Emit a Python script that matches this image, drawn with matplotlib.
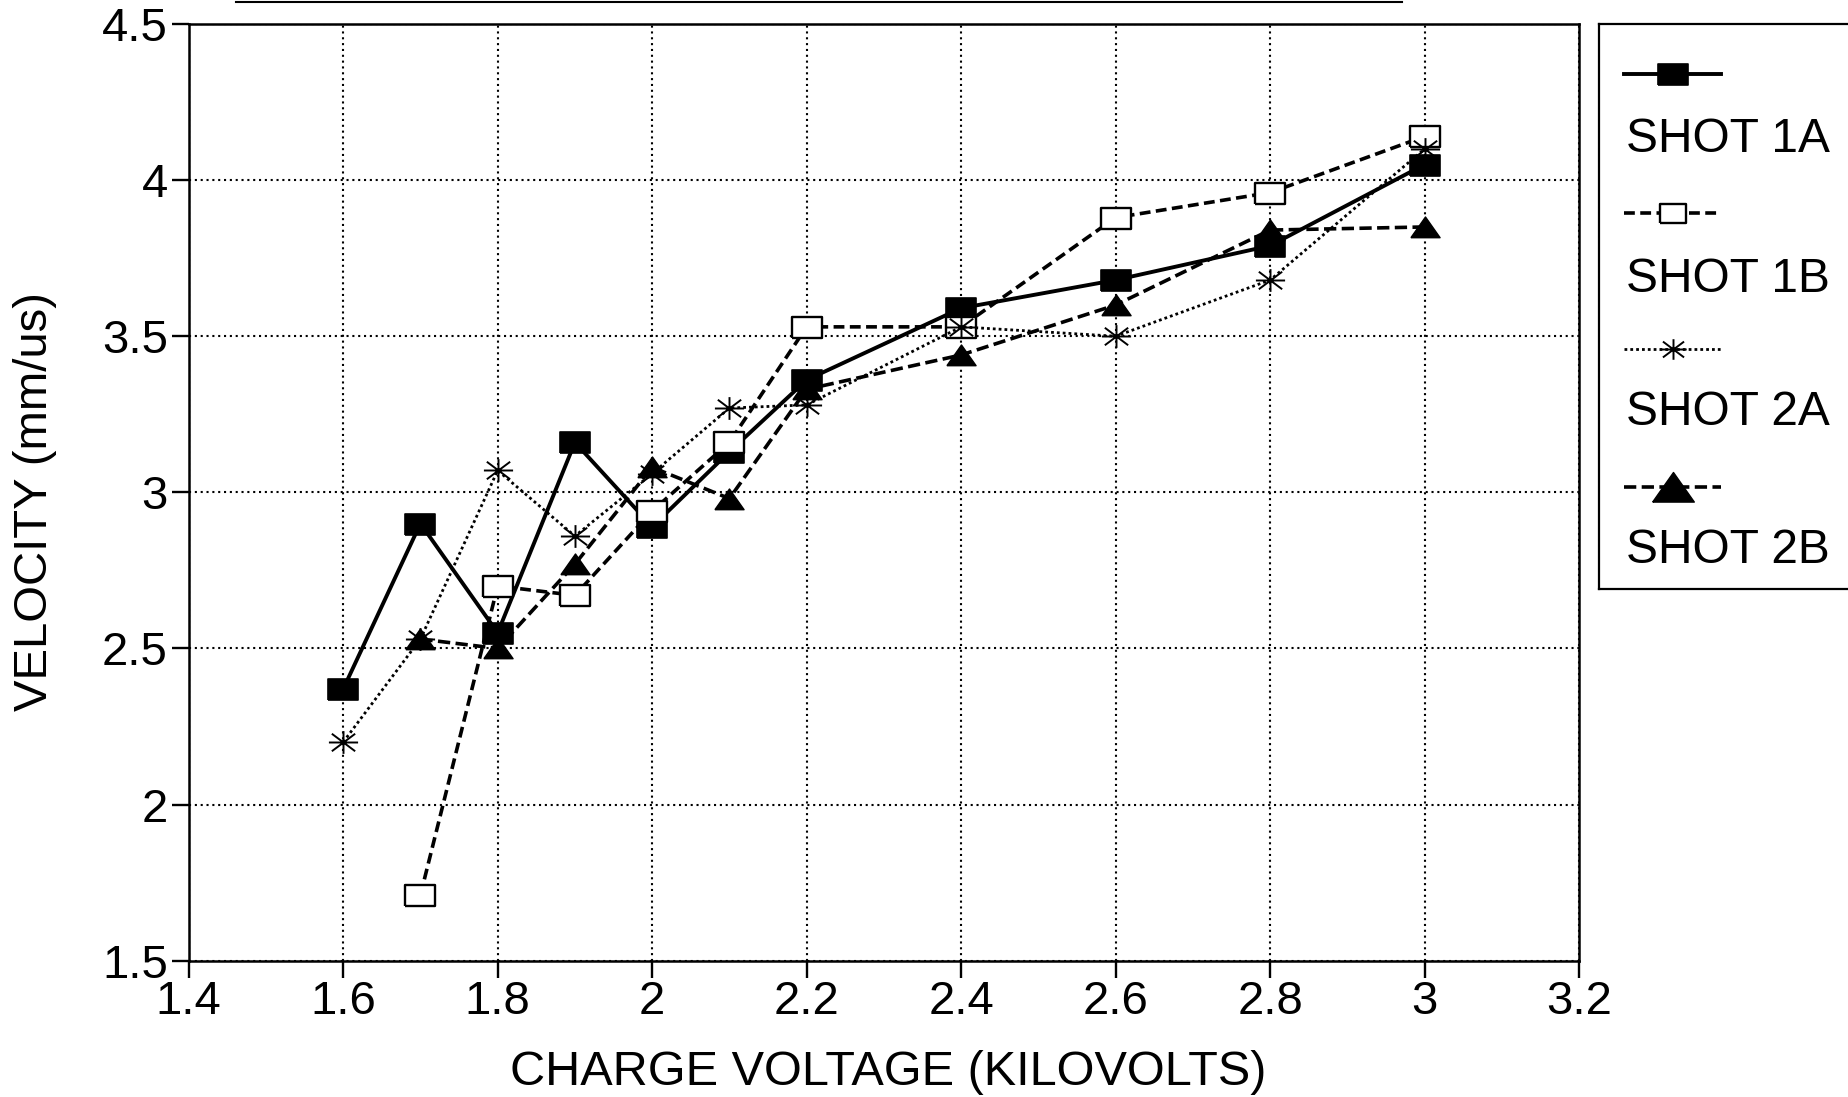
import numpy as np
import matplotlib
matplotlib.use('Agg')
import matplotlib.pyplot as plt
from matplotlib.lines import Line2D
from matplotlib.path import Path

# charge voltage (kV) and measured velocity (mm/us) per shot
volts_1a = [1.6, 1.7, 1.8, 1.9, 2.0, 2.1, 2.2, 2.4, 2.6, 2.8, 3.0]
vel_1a = [2.37, 2.90, 2.55, 3.16, 2.89, 3.13, 3.36, 3.59, 3.68, 3.79, 4.05]

volts_1b = [1.7, 1.8, 1.9, 2.0, 2.1, 2.2, 2.4, 2.6, 2.8, 3.0]
vel_1b = [1.71, 2.70, 2.67, 2.94, 3.16, 3.53, 3.53, 3.88, 3.96, 4.14]

volts_2a = [1.6, 1.7, 1.8, 1.9, 2.0, 2.1, 2.2, 2.4, 2.6, 2.8, 3.0]
vel_2a = [2.20, 2.53, 3.07, 2.86, 3.06, 3.27, 3.28, 3.53, 3.50, 3.68, 4.10]

volts_2b = [1.7, 1.8, 1.9, 2.0, 2.1, 2.2, 2.4, 2.6, 2.8, 3.0]
vel_2b = [2.53, 2.50, 2.77, 3.08, 2.98, 3.33, 3.44, 3.60, 3.84, 3.85]

labels = ['SHOT 1A', 'SHOT 1B', 'SHOT 2A', 'SHOT 2B']
xticks = [1.4, 1.6, 1.8, 2.0, 2.2, 2.4, 2.6, 2.8, 3.0, 3.2]
xticklabels = ['1.4', '1.6', '1.8', '2', '2.2', '2.4', '2.6', '2.8', '3', '3.2']
yticks = [1.5, 2.0, 2.5, 3.0, 3.5, 4.0, 4.5]
yticklabels = ['1.5', '2', '2.5', '3', '3.5', '4', '4.5']

plt.rcParams['font.family'] = ['Liberation Sans', 'DejaVu Sans']

# squashed marker shapes like the old plotter output
rect_mk = [(-1, -0.72), (1, -0.72), (1, 0.72), (-1, 0.72), (-1, -0.72)]
tri_mk = [(-1, -0.7), (1, -0.7), (0, 0.72), (-1, -0.7)]
star_mk = Path(
    [(-1, 0), (1, 0), (0, -0.78), (0, 0.78), (-0.8, -0.6), (0.8, 0.6), (-0.8, 0.6), (0.8, -0.6)],
    [Path.MOVETO, Path.LINETO] * 4,
)

styles = [
    dict(color='black', lw=2.8, ls='-', marker=rect_mk, ms=21, mfc='black', mec='black', mew=1.2),
    dict(color='black', lw=2.6, ls=(0, (3, 1.5)), marker=rect_mk, ms=21, mfc='white', mec='black', mew=1.7),
    dict(color='black', lw=2.0, ls=(0, (1, 1.1)), marker=star_mk, ms=21, mfc='none', mec='black', mew=1.4),
    dict(color='black', lw=2.6, ls=(0, (3.4, 1.5)), marker=tri_mk, ms=21, mfc='black', mec='black', mew=1.0),
]
series = [(volts_1a, vel_1a), (volts_1b, vel_1b), (volts_2a, vel_2a), (volts_2b, vel_2b)]

fig = plt.figure(figsize=(18.48, 10.97), dpi=100)
ax = fig.add_axes([0.1021, 0.1243, 0.7524, 0.8538])

for (xs, ys), st in zip(series, styles):
    ax.plot(xs, ys, zorder=3, **st)

ax.set_xlim(1.4, 3.2)
ax.set_ylim(1.5, 4.5)
ax.set_xticks(xticks)
ax.set_xticklabels(xticklabels)
ax.set_yticks(yticks)
ax.set_yticklabels(yticklabels)
ax.tick_params(axis='both', direction='out', length=12, width=1.7, labelsize=34, color='black')
ax.tick_params(axis='x', pad=2)
ax.tick_params(axis='y', pad=3)
ax.grid(True, color='black', lw=1.5, ls=(0, (1, 1.8)), zorder=1)
for sp in ax.spines.values():
    sp.set_linewidth(1.8)

ax.set_xlabel('CHARGE VOLTAGE (KILOVOLTS)', fontsize=35)
ax.set_ylabel('VELOCITY (mm/us)', fontsize=34)
ax.xaxis.label.set_va('center')
ax.yaxis.label.set_va('center')
ax.xaxis.set_label_coords(0.503, -0.119)
ax.yaxis.set_label_coords(-0.1105, 0.49)

# legend box: handle drawn above each label, right edge runs off the page
lax = fig.add_axes([0.8653, 0.463, 0.145, 0.515])
lax.set_xlim(0, 1)
lax.set_ylim(0, 1)
lax.set_xticks([])
lax.set_yticks([])
for sp in lax.spines.values():
    sp.set_linewidth(1.6)

handle_y = [0.911, 0.665, 0.425, 0.181]
text_y = [0.796, 0.548, 0.312, 0.069]
leg_ms = [21, 19, 19, 30]
for st, hy, ty, lab, ms in zip(styles, handle_y, text_y, labels, leg_ms):
    st2 = dict(st)
    st2['ms'] = ms
    st2['markevery'] = [1]
    lax.plot([0.093, 0.275, 0.455], [hy, hy, hy], **st2)
    lax.text(0.1, ty, lab, fontsize=34.5, ha='left', va='center')

# faint rule left over at the top edge of the scanned page
fig.add_artist(Line2D([236 / 1848, 1402 / 1848], [1 - 1.5 / 1097] * 2, color='black', lw=1.5))

fig.savefig('out.png', dpi=100)
